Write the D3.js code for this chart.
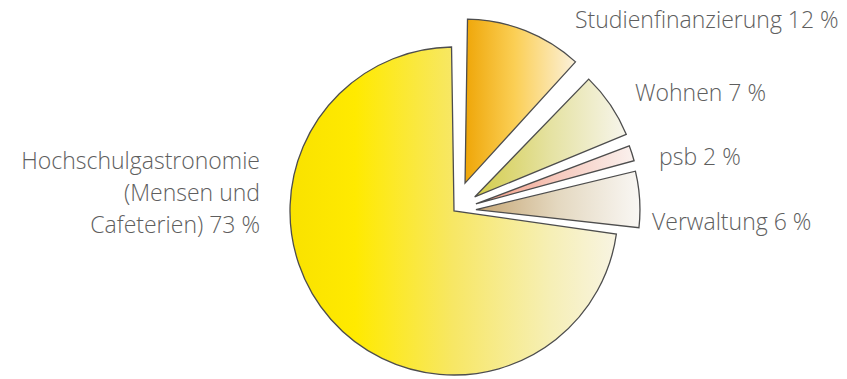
<!DOCTYPE html>
<html>
<head>
<meta charset="utf-8">
<script src="https://cdn.jsdelivr.net/npm/d3@7"></script>
<style>
  html, body { margin: 0; padding: 0; background: #fff; }
  svg text { font-family: "Open Sans", Roboto, sans-serif; font-weight: 300; fill: #5e5e5e; }
</style>
</head>
<body>
<svg id="pie" width="847" height="379"></svg>
<script>
// shares in percent, clockwise from 12 o'clock
const categories = ["Studienfinanzierung", "Wohnen", "psb", "Verwaltung", "Hochschulgastronomie"];
const values = [12, 7, 2, 6, 73];
const labelLines = [
  ["Studienfinanzierung 12 %"],
  ["Wohnen 7 %"],
  ["psb 2 %"],
  ["Verwaltung 6 %"],
  ["Hochschulgastronomie", "(Mensen und", "Cafeterien) 73 %"]
];

// gradient stops per slice (left -> right)
const fills = [
  [[0, "#efa608"], [0.45, "#fbcf55"], [1, "#fbf1dc"]],
  [[0, "#d3cc4a"], [0.5, "#e5e2a2"], [1, "#f7f5ec"]],
  [[0, "#f2987f"], [0.5, "#f6c8bc"], [1, "#faf1ee"]],
  [[0, "#c6a674"], [0.5, "#e4d8c0"], [1, "#f9f7f4"]],
  [[0, "#f9e200"], [0.2, "#ffea00"], [0.5, "#f7e765"], [0.8, "#f6efb6"], [1, "#f8f4e2"]]
];

run();

function computeSizes (svg) {
  const width = +svg.attr("width");
  const height = +svg.attr("height");
  return {
    width,
    height,
    cx: 454,
    cy: 211,
    radius: 164
  };
}

function run () {
  const svg = d3.select("#pie");
  const s = computeSizes(svg);

  const pie = d3.pie().sort(null).value(d => d.value);
  const arcs = pie(categories.map((c, i) => ({ name: c, value: values[i], i })));

  const arc = d3.arc()
    .innerRadius(0)
    .outerRadius(s.radius)
    .padAngle(0.03)
    .padRadius(s.radius);

  // how far each slice is pulled out of the pie
  const explode = [30, 25, 23, 22, 0];

  const defs = svg.append("defs");
  fills.forEach((stops, i) => {
    const g = defs.append("linearGradient")
      .attr("id", "grad" + i)
      .attr("x1", 0).attr("y1", 0)
      .attr("x2", 1).attr("y2", 0);
    stops.forEach(st => {
      g.append("stop").attr("offset", st[0]).attr("stop-color", st[1]);
    });
  });

  const g = svg.append("g").attr("transform", `translate(${s.cx},${s.cy})`);

  g.selectAll("path")
    .data(arcs)
    .join("path")
    .attr("d", arc)
    .attr("transform", d => {
      const a = (d.startAngle + d.endAngle) / 2;
      const o = explode[d.data.i];
      return `translate(${Math.sin(a) * o},${-Math.cos(a) * o})`;
    })
    .attr("fill", d => `url(#grad${d.data.i})`)
    .attr("stroke", "#4d4d4d")
    .attr("stroke-width", 1.3)
    .attr("stroke-linejoin", "miter");

  // label anchors (x, first baseline, anchor)
  const labelPos = [
    [575, 28, "start"],
    [635, 101, "start"],
    [659, 165, "start"],
    [652, 230, "start"],
    [260, 169, "end"]
  ];

  svg.selectAll("text.lbl")
    .data(labelLines)
    .join("text")
    .attr("class", "lbl")
    .attr("x", (d, i) => labelPos[i][0])
    .attr("y", (d, i) => labelPos[i][1])
    .attr("text-anchor", (d, i) => labelPos[i][2])
    .style("font-size", "23px")
    .each(function (lines, i) {
      d3.select(this).selectAll("tspan")
        .data(lines)
        .join("tspan")
        .attr("x", labelPos[i][0])
        .attr("dy", (l, j) => j === 0 ? 0 : 32)
        .text(l => l);
    });
}
</script>
</body>
</html>
